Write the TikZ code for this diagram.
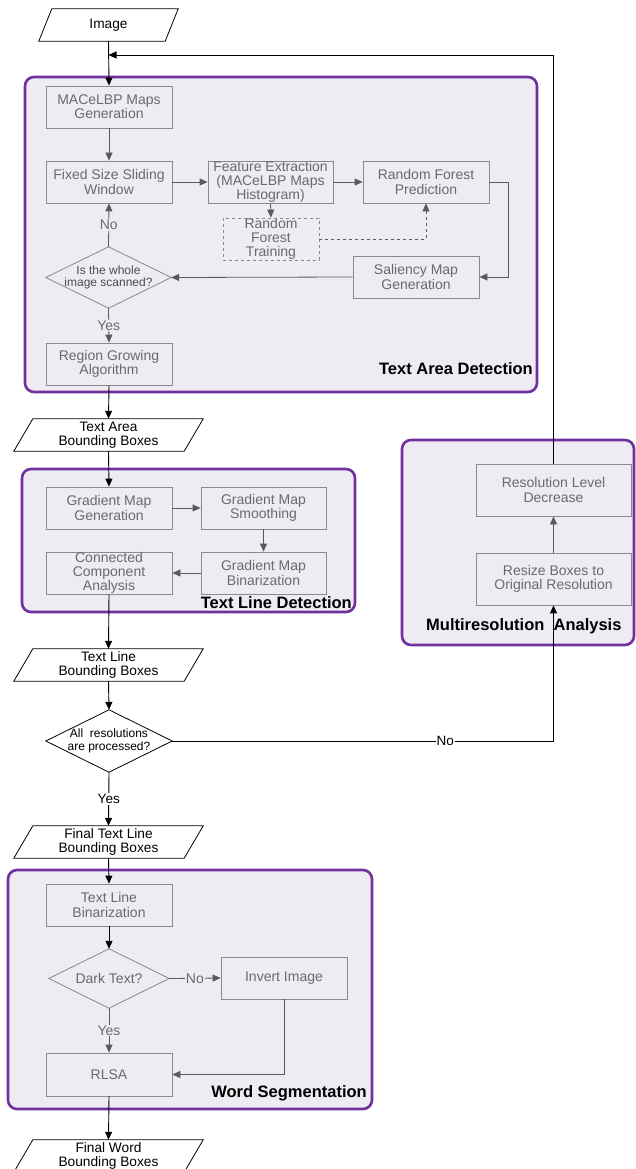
\documentclass[tikz,border=0pt]{standalone}
\usepackage{fontspec}
\setmainfont{Liberation Sans}
\usetikzlibrary{arrows.meta,calc}
\definecolor{purp}{HTML}{7030A0}
\definecolor{cfill}{HTML}{EEEBF2}
\definecolor{boxline}{HTML}{8A8A8A}
\definecolor{boxtext}{HTML}{6A6A6A}
\definecolor{garrow}{HTML}{5A5A5A}
\newcommand\pgramdraw[2]{\draw[line width=0.8pt] ([xshift=#2]#1.north west) -- (#1.north east) -- ([xshift=-#2]#1.south east) -- (#1.south west) -- cycle;}
\newcommand\diadraw[2]{\draw[#2] (#1.north) -- (#1.east) -- (#1.south) -- (#1.west) -- cycle;}
\tikzset{
 container/.style={draw=purp, line width=2.6pt, fill=cfill, rounded corners=9pt},
 pbox/.style={draw=boxline, line width=0.8pt, text=boxtext, minimum width=126pt, minimum height=42pt, inner sep=0pt, align=center, font=\fontsize{14}{14.2}\selectfont},
 io/.style={minimum width=189pt, minimum height=32pt, inner sep=0pt, align=center, font=\fontsize{13.7}{14.3}\selectfont},
 dec/.style={minimum width=125pt, minimum height=61pt, inner sep=0pt, align=center, font=\fontsize{12}{12.5}\selectfont},
 garr/.style={draw=garrow, line width=0.8pt, -{Triangle[length=8pt,width=7pt]}},
 barr/.style={draw=black, line width=0.9pt, -{Triangle[length=8pt,width=7pt]}},
 lbl/.style={font=\fontsize{16.5}{16.5}\selectfont\bfseries, inner sep=0pt},
 yn/.style={font=\fontsize{14}{14}\selectfont, fill=cfill, inner sep=1pt, text=boxtext},
 ynb/.style={font=\fontsize{13.5}{14}\selectfont, fill=white, inner sep=1pt, text=black},
}
\begin{document}
\begin{tikzpicture}[x=1pt,y=-1pt]
\useasboundingbox (0,0) rectangle (635,1169);
% containers
\draw[container] (25,77) rectangle (537,392);
\draw[container] (22,469) rectangle (355,612);
\draw[container] (402,440) rectangle (634,645);
\draw[container] (8,870) rectangle (372,1109);

% I/O parallelograms
\node[io, minimum width=139pt] (img) at (108.5,25) {Image};
\pgramdraw{img}{13pt}
\node[io] (tab) at (108.5,435) {Text Area\\Bounding Boxes};
\pgramdraw{tab}{19pt}
\node[io] (tlbb) at (108.5,665) {Text Line\\Bounding Boxes};
\pgramdraw{tlbb}{19pt}
\node[io] (ftl) at (108.5,842) {Final Text Line\\Bounding Boxes};
\pgramdraw{ftl}{19pt}
\node[io] (fw) at (108.5,1156) {Final Word\\Bounding Boxes};
\pgramdraw{fw}{19pt}

% Text area detection
\node[pbox] (mac) at (109,107) {MACeLBP Maps\\Generation};
\node[pbox] (fix) at (109,182) {Fixed Size Sliding\\Window};
\node[pbox, minimum width=125pt] (feat) at (270.5,182) {Feature Extraction\\(MACeLBP Maps\\Histogram)};
\node[pbox] (rfp) at (426,182) {Random Forest\\Prediction};
\node[pbox, dashed, minimum width=96pt] (rft) at (271,239) {Random\\Forest\\Training};
\node[dec, text=black!70] (dia1) at (108.5,277.5) {Is the whole\\image scanned?};
\diadraw{dia1}{draw=boxline, line width=0.8pt}
\node[pbox] (sal) at (416,277) {Saliency Map\\Generation};
\node[pbox] (rg) at (109,364) {Region Growing\\Algorithm};
\node[lbl, anchor=east] (ltad) at (533,369) {Text Area Detection};

% Text line detection
\node[pbox] (gmg) at (109,508) {Gradient Map\\Generation};
\node[pbox, minimum width=125pt] (gms) at (263.5,508) {Gradient Map\\Smoothing};
\node[pbox, minimum width=125pt] (gmb) at (263.5,573) {Gradient Map\\Binarization};
\node[pbox] (cca) at (109,573) {Connected\\Component\\Analysis};
\node[lbl, anchor=east] (ltld) at (352,603) {Text Line Detection};

% Multiresolution
\node[pbox, minimum width=155pt, minimum height=52pt] (rld) at (553.5,490) {Resolution Level\\Decrease};
\node[pbox, minimum width=155pt, minimum height=52pt] (rbo) at (553.5,579) {Resize Boxes to\\Original Resolution};
\node[lbl, anchor=west] (lmra) at (426,626) {Multiresolution\ \ Analysis};

% decision all resolutions
\node[dec, minimum width=126pt, minimum height=62pt] (dia2) at (109,741) {All\ \ resolutions\\are processed?};
\diadraw{dia2}{draw=black, line width=0.8pt}

% Word segmentation
\node[pbox] (tlb) at (109,905) {Text Line\\Binarization};
\node[dec, minimum width=120pt, minimum height=59pt, text=boxtext, font=\fontsize{14}{14}\selectfont] (dark) at (109,978.5) {Dark Text?};
\diadraw{dark}{draw=boxline, line width=0.8pt}
\node[pbox] (inv) at (284,978) {Invert Image};
\node[pbox, minimum height=43pt] (rlsa) at (109,1074.5) {RLSA};
\node[lbl, anchor=east] (lws) at (367,1093) {Word Segmentation};

% connectors
\coordinate (fb) at (108.5,55);
\draw[barr] (img.south) -- (mac.north);
\draw[barr] (rld.north) |- (fb);
\draw[garr] (mac.south) -- (fix.north);
\draw[garr] (fix.east) -- (feat.west);
\draw[garr] (feat.east) -- (rfp.west);
\draw[garr] (feat.south) -- (rft.north);
\draw[garr, dashed] (rft.east) -| (rfp.south);
\draw[garr] (rfp.east) -- ++(19,0) |- (sal.east);
\draw[garr] (sal.west) -- (dia1.east);
\draw[garr] (dia1.north) -- node[yn] {No} (fix.south);
\draw[garr] (dia1.south) -- node[yn] {Yes} (rg.north);
\draw[barr] (rg.south) -- (tab.north);
\draw[barr] (tab.south) -- (gmg.north);
\draw[garr] (gmg.east) -- (gms.west);
\draw[garr] (gms.south) -- (gmb.north);
\draw[garr] (gmb.west) -- (cca.east);
\draw[barr] (cca.south) -- (tlbb.north);
\draw[barr] (tlbb.south) -- (dia2.north);
\draw[barr] (dia2.east) -| node[ynb, pos=0.358] {No} (rbo.south);
\draw[garr] (rbo.north) -- (rld.south);
\draw[barr] (dia2.south) -- node[ynb] {Yes} (ftl.north);
\draw[barr] (ftl.south) -- (tlb.north);
\draw[barr] (tlb.south) -- (dark.north);
\draw[garr] (dark.east) -- node[yn] {No} (inv.west);
\draw[garr] (dark.south) -- node[yn] {Yes} (rlsa.north);
\draw[garr] (inv.south) |- (rlsa.east);
\draw[barr] (rlsa.south) -- (fw.north);
\end{tikzpicture}
\end{document}
